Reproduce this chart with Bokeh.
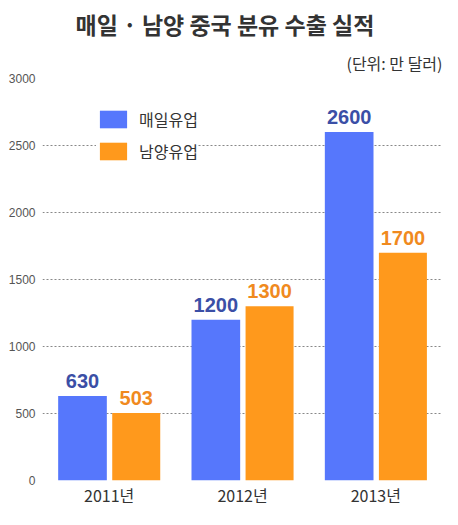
from bokeh.plotting import figure
from bokeh.models import (ColumnDataSource, FactorRange, Range1d, Legend, LegendItem,
                          LabelSet, Title, FixedTicker)
from bokeh.core.properties import value
from bokeh.transform import dodge
from bokeh.embed import file_html
from bokeh.resources import INLINE

years = ["2011년", "2012년", "2013년"]
maeil = [630, 1200, 2600]
namyang = [503, 1300, 1700]
series_names = ["매일유업", "남양유업"]
y_ticks = [0, 500, 1000, 1500, 2000, 2500, 3000]
title_text = "매일 · 남양 중국 분유 수출 실적"
unit_text = "(단위: 만 달러)"

BLUE = "#5677FC"
ORANGE = "#FF991C"
BLUE_TXT = "#3B4FA6"
ORANGE_TXT = "#F08A1E"
NUM_FONT = "Liberation Sans"

src = ColumnDataSource(dict(
    year=years, maeil=maeil, namyang=namyang,
    maeil_lbl=[str(v) for v in maeil], namyang_lbl=[str(v) for v in namyang],
))

p = figure(x_range=FactorRange(*years), y_range=Range1d(0, 3000),
           width=442, height=509, output_backend="svg", toolbar_location=None,
           min_border_left=42, min_border_right=0, min_border_top=8, min_border_bottom=26)
p.outline_line_color = None
p.background_fill_color = "white"

# titles
t_unit = Title(text=unit_text, align="right", text_font="Noto Sans CJK KR",
               text_font_size="16px", text_font_style="normal", text_color="#333333",
               offset=0, standoff=8)
p.add_layout(t_unit, "above")
t_main = Title(text=title_text, align="left", offset=33, text_font="Noto Sans CJK KR",
               text_font_size="23px", text_font_style="bold", text_color="#333333",
               standoff=8)
p.add_layout(t_main, "above")

r1 = p.vbar(x=dodge("year", -0.2, range=p.x_range), top="maeil", width=0.365,
            source=src, fill_color=BLUE, line_color=None)
r2 = p.vbar(x=dodge("year", 0.203, range=p.x_range), top="namyang", width=0.36,
            source=src, fill_color=ORANGE, line_color=None)

lab1 = LabelSet(x=dodge("year", -0.2, range=p.x_range), y="maeil", text="maeil_lbl",
                source=src, text_align="center", text_baseline="bottom", y_offset=8,
                text_font=value(NUM_FONT), text_font_style="bold",
                text_font_size="20px", text_color=BLUE_TXT,
                background_fill_color="white")
lab2 = LabelSet(x=dodge("year", 0.203, range=p.x_range), y="namyang", text="namyang_lbl",
                source=src, text_align="center", text_baseline="bottom", y_offset=8,
                text_font=value(NUM_FONT), text_font_style="bold",
                text_font_size="20px", text_color=ORANGE_TXT,
                background_fill_color="white")
p.add_layout(lab1)
p.add_layout(lab2)

# grid
p.xgrid.grid_line_color = None
p.ygrid.grid_line_color = "#888888"
p.ygrid.grid_line_dash = "2 2"
p.ygrid.grid_line_width = 1
p.yaxis.ticker = FixedTicker(ticks=y_ticks)

# axes
for ax in (p.xaxis, p.yaxis):
    ax.axis_line_color = None
    ax.major_tick_line_color = None
    ax.minor_tick_line_color = None
    ax.major_tick_out = 0
    ax.major_tick_in = 0
p.yaxis.major_label_text_font = NUM_FONT
p.yaxis.major_label_text_font_size = "12px"
p.yaxis.major_label_text_color = "#555555"
p.yaxis.major_label_standoff = 7
p.xaxis.major_label_text_font = "Noto Sans CJK KR"
p.xaxis.major_label_text_font_size = "16px"
p.xaxis.major_label_text_color = "#333333"
p.xaxis.major_label_standoff = 2

legend = Legend(items=[LegendItem(label=series_names[0], renderers=[r1]),
                       LegendItem(label=series_names[1], renderers=[r2])],
                location=(54, 317), glyph_width=34, glyph_height=22,
                label_standoff=9, spacing=8, padding=18, margin=0,
                label_text_font="Noto Sans CJK KR", label_text_font_size="16px",
                label_text_color="#333333", border_line_color=None,
                background_fill_color="white", background_fill_alpha=1.0)
p.add_layout(legend, "center")

open("out.html", "w").write(file_html(p, INLINE))
